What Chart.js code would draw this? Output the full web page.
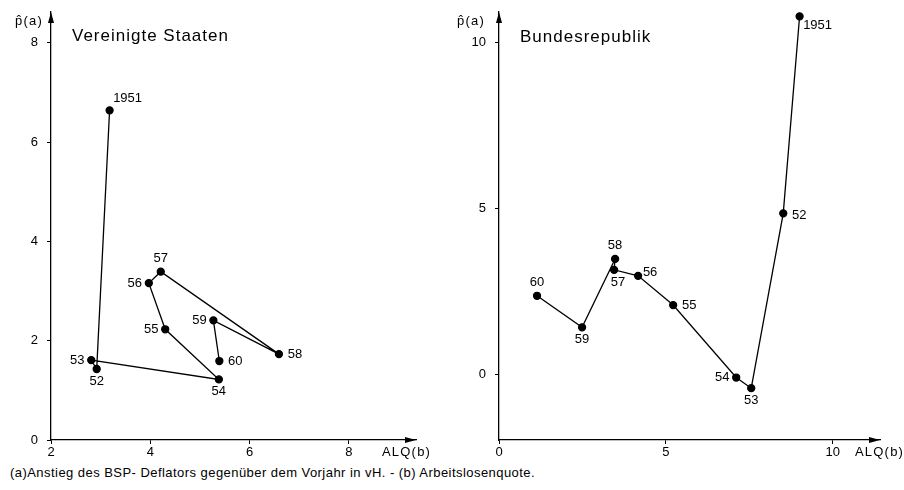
<!DOCTYPE html>
<html lang="de">
  <head>
    <meta charset="UTF-8" />
    <title>Preisanstieg und Arbeitslosenquote</title>
    <script src="https://cdn.jsdelivr.net/npm/chart.js@4.4.1/dist/chart.umd.min.js"></script>
    <style>
      body { margin: 0; background: #fff; font-family: "Liberation Sans", Arial, sans-serif; color: #000; }
      #wrap { position: relative; width: 904px; height: 490px; overflow: hidden; }
      canvas { position: absolute; top: 0; }
      #usChart { left: 0; }
      #deChart { left: 450px; }
      .txt { position: absolute; white-space: nowrap; line-height: 1; }
      .title { font-size: 17px; letter-spacing: 1px; }
      .axis { font-size: 13px; letter-spacing: 1.2px; }
      #footer { left: 10px; top: 466px; font-size: 13px; letter-spacing: 0.45px; }
    </style>
  </head>
  <body>
    <div id="wrap">
      <canvas id="usChart" width="450" height="460"></canvas>
      <canvas id="deChart" width="454" height="460"></canvas>

      <div class="txt title" style="left:72px; top:27px">Vereinigte Staaten</div>
      <div class="txt title" style="left:520px; top:28px">Bundesrepublik</div>
      <div class="txt axis" style="left:15px; top:14px">p̂(a)</div>
      <div class="txt axis" style="left:457px; top:14px">p̂(a)</div>
      <div class="txt axis" style="left:382px; top:445px">ALQ(b)</div>
      <div class="txt axis" style="left:855px; top:445px">ALQ(b)</div>
      <div class="txt" id="footer">(a)Anstieg des BSP- Deflators gegenüber dem Vorjahr in vH. - (b) Arbeitslosenquote.</div>
    </div>

    <script>
      // years, 1951 .. 1960
      const years = ["1951", "52", "53", "54", "55", "56", "57", "58", "59", "60"];

      // Vereinigte Staaten
      const usUnemployment = [3.18, 2.92, 2.81, 5.38, 4.30, 3.97, 4.21, 6.59, 5.27, 5.39];
      const usDeflator = [6.64, 1.43, 1.61, 1.22, 2.23, 3.16, 3.39, 1.73, 2.41, 1.59];
      const usTicksX = [2, 4, 6, 8];
      const usTicksY = [0, 2, 4, 6, 8];

      // Bundesrepublik
      const deUnemployment = [9.01, 8.52, 7.56, 7.11, 5.22, 4.17, 3.45, 3.48, 2.49, 1.14];
      const deDeflator = [10.79, 4.86, -0.40, -0.08, 2.10, 2.98, 3.16, 3.49, 1.43, 2.38];
      const deTicksX = [0, 5, 10];
      const deTicksY = [0, 5, 10];

      const ink = "#000";
      const font = { family: "Liberation Sans, Arial, sans-serif", size: 13 };

      // where the year label sits relative to its point
      const offsets = {
        ne: [18, -12], e: [16, 0], w: [-14, 0], s: [0, 12], n: [0, -13],
        se: [18, 9], es: [16, 2], ne2: [12, -3], s2: [4, 13]
      };

      const yearLabels = {
        id: "yearLabels",
        afterDatasetsDraw(chart, args, opts) {
          const ctx = chart.ctx;
          const pts = chart.getDatasetMeta(0).data;
          ctx.save();
          ctx.fillStyle = ink;
          ctx.font = "13px " + font.family;
          ctx.textAlign = "center";
          ctx.textBaseline = "middle";
          pts.forEach((p, i) => {
            const o = offsets[opts.place[i]];
            ctx.fillText(years[i], p.x + o[0], p.y + o[1]);
          });
          ctx.restore();
        }
      };

      // arrow heads at the ends of both axes
      const arrows = {
        id: "arrows",
        afterDraw(chart) {
          const { ctx, chartArea: a } = chart;
          ctx.save();
          ctx.fillStyle = ink;
          ctx.beginPath();
          ctx.moveTo(a.right, a.bottom);
          ctx.lineTo(a.right - 11, a.bottom - 3);
          ctx.lineTo(a.right - 11, a.bottom + 3);
          ctx.closePath();
          ctx.fill();
          ctx.beginPath();
          ctx.moveTo(a.left, a.top);
          ctx.lineTo(a.left - 3, a.top + 11);
          ctx.lineTo(a.left + 3, a.top + 11);
          ctx.closePath();
          ctx.fill();
          ctx.restore();
        }
      };

      function noPad(s) {
        s.paddingTop = 0;
        s.paddingBottom = 0;
        s.paddingLeft = 0;
        s.paddingRight = 0;
      }

      function makeChart(id, xs, ys, ticksX, ticksY, range, yWidth, pad, place) {
        const pts = xs.map((x, i) => ({ x: x, y: ys[i] }));
        return new Chart(document.getElementById(id), {
          type: "scatter",
          data: {
            datasets: [{
              data: pts,
              showLine: true,
              borderColor: ink,
              borderWidth: 1.3,
              backgroundColor: ink,
              pointRadius: 3.5,
              pointHoverRadius: 3.5
            }]
          },
          options: {
            responsive: false,
            animation: false,
            events: [],
            layout: { padding: pad },
            plugins: {
              legend: { display: false },
              tooltip: { enabled: false },
              yearLabels: { place: place }
            },
            scales: {
              x: {
                type: "linear",
                min: range.x[0],
                max: range.x[1],
                afterBuildTicks: (s) => { s.ticks = ticksX.map((v) => ({ value: v })); },
                afterFit: (s) => { s.height = 20; noPad(s); },
                grid: { drawOnChartArea: false, drawTicks: true, tickLength: 4, color: ink },
                border: { display: true, color: ink, width: 1.3 },
                ticks: { color: ink, font: font, padding: 1, maxRotation: 0 }
              },
              y: {
                type: "linear",
                min: range.y[0],
                max: range.y[1],
                afterBuildTicks: (s) => { s.ticks = ticksY.map((v) => ({ value: v })); },
                afterFit: (s) => { s.width = yWidth; noPad(s); },
                grid: { drawOnChartArea: false, drawTicks: true, tickLength: 4, color: ink },
                border: { display: true, color: ink, width: 1.3 },
                ticks: { color: ink, font: font, padding: 9 }
              }
            }
          },
          plugins: [yearLabels, arrows]
        });
      }

      makeChart("usChart", usUnemployment, usDeflator, usTicksX, usTicksY,
        { x: [2, 9.35], y: [0, 8.62] }, 51, { top: 12, right: 34, left: 0, bottom: 0 },
        ["ne", "s", "w", "s", "w", "w", "n", "e", "w", "e"]);

      makeChart("deChart", deUnemployment, deDeflator, deTicksX, deTicksY,
        { x: [0, 11.42], y: [-1.96, 10.92] }, 49, { top: 12, right: 24, left: 0, bottom: 0 },
        ["se", "es", "s", "w", "e", "ne2", "s2", "n", "s", "n"]);
    </script>
  </body>
</html>
